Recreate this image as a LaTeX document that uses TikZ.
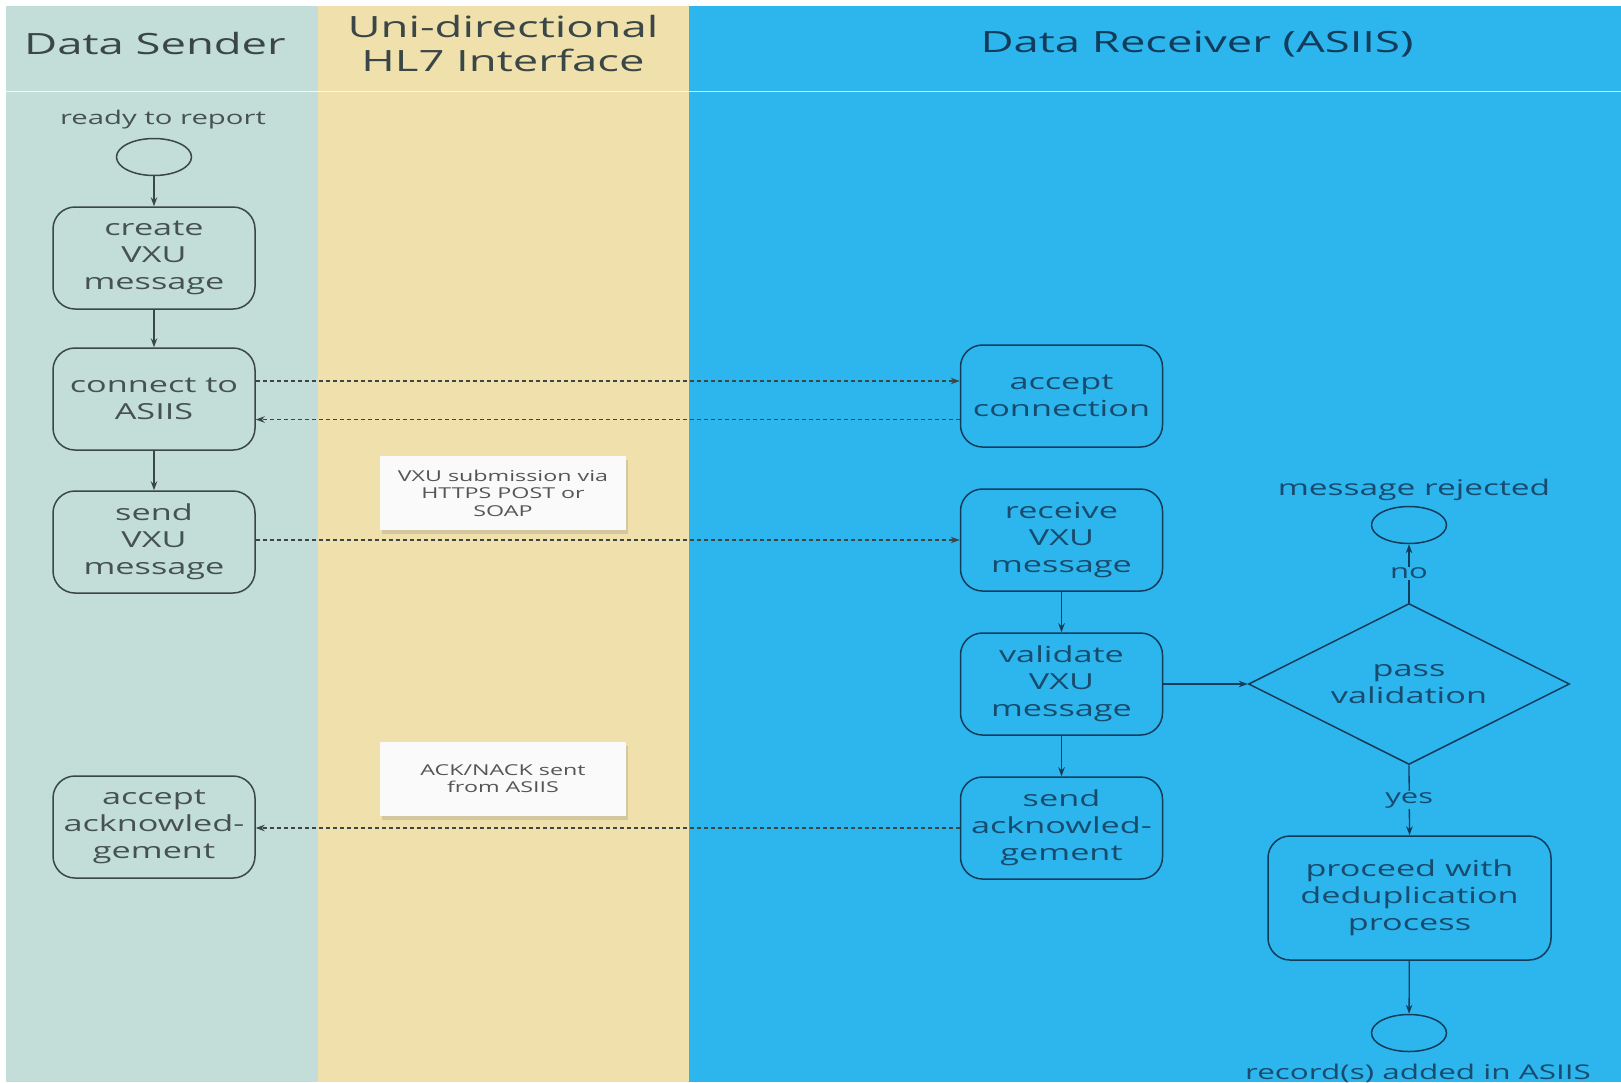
\documentclass[tikz,border=0pt]{standalone}
\usepackage{fontspec}
\setmainfont{Open Sans}[FakeStretch=1.55]
\usetikzlibrary{shapes.geometric,arrows.meta,shadows}
\definecolor{sendbg}{HTML}{C3DED8}
\definecolor{ifbg}{HTML}{F0E0AC}
\definecolor{recbg}{HTML}{2DB6EE}
\definecolor{sendline}{HTML}{3A4746}
\definecolor{sendtxt}{HTML}{46524F}
\definecolor{recline}{HTML}{123C5A}
\definecolor{rectxt}{HTML}{184B6D}
\definecolor{notetxt}{HTML}{555555}
\tikzset{
  box/.style={draw, rounded corners=22pt, line width=1.5pt, minimum width=202pt, minimum height=102pt, align=center, inner sep=2pt, font=\fontsize{22.1}{27}\selectfont},
  sbox/.style={box, draw=sendline, text=sendtxt},
  rbox/.style={box, draw=recline, text=rectxt},
  endpt/.style={draw, ellipse, line width=1.5pt, minimum width=75pt, minimum height=37pt, inner sep=0pt},
  arr/.style={-{Stealth[length=9pt,width=6.5pt]}, line width=1.3pt},
  darr/.style={-{Stealth[length=9pt,width=6.5pt]}, line width=1.1pt, dash pattern=on 4pt off 3pt, draw=sendline},
  note/.style={fill=white!98!black, minimum width=246pt, minimum height=74pt, align=center, text=notetxt, inner sep=2pt,
    font=\fontsize{15}{17.5}\selectfont, drop shadow={shadow xshift=2pt, shadow yshift=-4pt, opacity=0.25}},
  hdr/.style={align=center, font=\fontsize{29.3}{34}\selectfont},
  lbl/.style={font=\fontsize{21.6}{25}\selectfont}
}
\begin{document}
\begin{tikzpicture}[x=1pt,y=-1pt]
\useasboundingbox (0,0) rectangle (1621,1082);
\fill[white] (0,0) rectangle (1621,1082);
% lanes
\fill[sendbg] (6,6) rectangle (318,1082);
\fill[ifbg] (318,6) rectangle (689,1082);
\fill[recbg] (689,6) rectangle (1621,1082);
\draw[white, opacity=0.8, line width=1pt] (6,91) -- (1621,91);
% headers
\node[hdr, text=sendline] (h1) at (155,44) {Data Sender};
\node[hdr, text=sendline] (h2) at (503,44) {Uni-directional\\HL7 Interface};
\node[hdr, text=recline] (h3) at (1197,44) {Data Receiver (ASIIS)};
% sender lane
\node[text=sendtxt, font=\fontsize{18.9}{23}\selectfont] (rtr) at (163,120) {ready to report};
\node[endpt, draw=sendline] (start) at (154,157) {};
\node[sbox] (create) at (154,258) {create\\VXU\\message};
\node[sbox] (connect) at (154,399) {connect to\\ASIIS};
\node[sbox] (send) at (154,542) {send\\VXU\\message};
\node[sbox] (ackA) at (154,827) {accept\\acknowled-\\gement};
% notes
\node[note] (n1) at (503,493) {VXU submission via\\HTTPS POST or\\SOAP};
\node[note] (n2) at (503,778.5) {ACK/NACK sent\\from ASIIS};
% receiver lane
\node[rbox] (accConn) at (1061.5,396) {accept\\connection};
\node[rbox] (recv) at (1061.5,540) {receive\\VXU\\message};
\node[rbox] (valid) at (1061.5,684) {validate\\VXU\\message};
\node[rbox] (sendAck) at (1061.5,828) {send\\acknowled-\\gement};
\node[draw=recline, text=rectxt, line width=1.5pt, diamond, shape aspect=2, minimum width=321pt, minimum height=161pt, inner sep=0pt, align=center, font=\fontsize{22.1}{26.3}\selectfont] (dia) at (1409,684) {pass\\validation};
\node[lbl, text=rectxt] (rejl) at (1414,490) {message rejected};
\node[endpt, draw=recline] (rej) at (1409,525) {};
\node[rbox, minimum width=283pt, minimum height=124pt] (dedup) at (1409.5,898) {proceed with\\deduplication\\process};
\node[endpt, draw=recline] (fin) at (1409,1033) {};
\node[text=rectxt, font=\fontsize{20.3}{24}\selectfont] (finl) at (1418,1073) {record(s) added in ASIIS};
% connectors
\draw[arr, draw=sendline] (start) -- (create);
\draw[arr, draw=sendline] (create) -- (connect);
\draw[arr, draw=sendline] (connect) -- (send);
\draw[darr] ([yshift=18pt]connect.east) coordinate (a) -- (a -| accConn.west);
\draw[darr] ([yshift=-23.5pt]accConn.west) coordinate (b) -- (b -| connect.east);
\draw[darr] ([yshift=2pt]send.east) coordinate (c) -- (c -| recv.west);
\draw[darr] (sendAck.west) -- (sendAck.west -| ackA.east);
\draw[arr, draw=recline] (recv) -- (valid);
\draw[arr, draw=recline] (valid) -- (sendAck);
\draw[arr, draw=recline] (valid.east) -- (valid.east -| dia.west);
\draw[arr, draw=recline] (dia.north) -- node[fill=recbg, text=rectxt, inner sep=1pt, font=\fontsize{20}{24}\selectfont] (no) {no} (rej.south);
\draw[arr, draw=recline] (dia.south) -- node[fill=recbg, text=rectxt, inner sep=1pt, font=\fontsize{20}{24}\selectfont] (yes) {yes} (dedup.north);
\draw[arr, draw=recline] (dedup) -- (fin);
\end{tikzpicture}
\end{document}
